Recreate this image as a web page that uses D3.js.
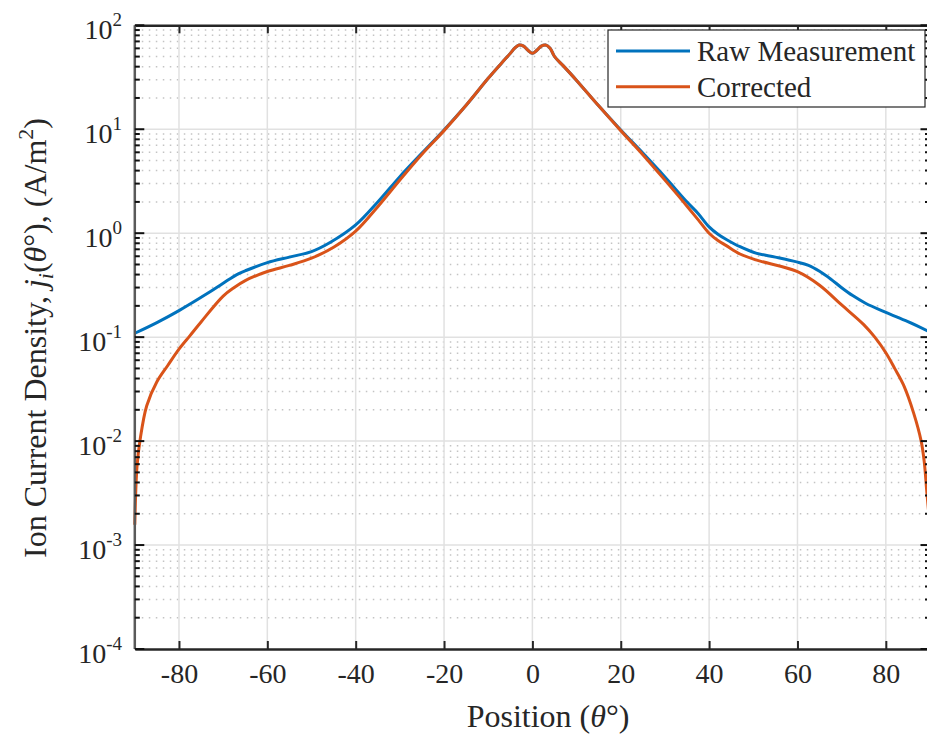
<!DOCTYPE html>
<html>
<head>
<meta charset="UTF-8">
<style>
body { margin: 0; background: #fff; }
svg text { font-family: "Liberation Serif", "Times New Roman", serif; fill: #262626; }
</style>
</head>
<body>
<svg id="chart"></svg>
<script src="https://d3js.org/d3.v7.min.js"></script>
<script>

// data
const thetaRaw = [-90, -85, -80, -73.7, -70, -66.9, -64.7, -60, -55, -50, -45.8, -40, -35, -30, -25, -20, -15, -10, -7, -5, -4, -3, -2, -1, 0,
  1, 2, 3, 4, 5, 7, 10, 15, 20, 25, 30, 35, 37.5, 40, 42, 43.9, 47, 50.6, 55, 59.8, 62.5, 65, 67.5, 70, 72.5, 75.4, 80, 85, 90];
const rawMeasurement = [0.109, 0.138, 0.180, 0.261, 0.330, 0.400, 0.440, 0.521, 0.589, 0.665, 0.813, 1.20, 1.995, 3.50, 5.89, 9.84, 17.0, 30.9, 43.2, 53.7, 60.3, 64.6, 63.1, 57.5, 53.7,
  57.5, 63.1, 64.6, 60.3, 50.1, 40.7, 29.5, 16.8, 9.84, 5.89, 3.47, 1.995, 1.55, 1.15, 0.977, 0.871, 0.741, 0.643, 0.589, 0.530, 0.490, 0.430, 0.363, 0.299, 0.251, 0.212, 0.173, 0.141, 0.112];

const thetaCor = [-90, -89.5, -88.8, -87.3, -85, -82.5, -80, -77.5, -75, -70, -67.5, -65, -60, -55, -50, -45, -40, -35, -30, -25, -20, -15, -10, -7, -5, -4, -3, -2, -1, 0,
  1, 2, 3, 4, 5, 7, 10, 15, 20, 25, 30, 35, 37.5, 40, 42, 43.9, 47, 50.6, 60, 65, 70, 75, 77.5, 80, 82, 84, 86.3, 88, 88.7, 89.3, 90];
const corrected = [0.00157, 0.0057, 0.0103, 0.0219, 0.0372, 0.0537, 0.0767, 0.1035, 0.140, 0.248, 0.300, 0.350, 0.428, 0.490, 0.575, 0.733, 1.047, 1.80, 3.25, 5.75, 9.7, 17.0, 30.9, 43.2, 53.7, 60.3, 64.6, 63.1, 57.5, 53.7,
  57.5, 63.1, 64.6, 60.3, 50.1, 40.7, 29.5, 16.8, 9.7, 5.70, 3.24, 1.82, 1.35, 1.0, 0.851, 0.759, 0.631, 0.553, 0.427, 0.316, 0.204, 0.132, 0.100, 0.0708, 0.0501, 0.0347, 0.0186, 0.0100, 0.00631, 0.00316, 0.00151];

const xTicks = [-80, -60, -40, -20, 0, 20, 40, 60, 80];
const yExponents = [-4, -3, -2, -1, 0, 1, 2];
const seriesNames = ["Raw Measurement", "Corrected"];
const seriesColors = ["#0072BD", "#D95319"];

const width = 927, height = 734;
const svg = d3.select("#chart").attr("width", width).attr("height", height);

const x = d3.scaleLinear().domain([-90, 90]).range([134.8, 930]);
const y = d3.scaleLog().domain([1e-4, 1e2]).range([649, 25.3]);

const plotL = x(-90), plotR = x(90), plotT = y(1e2), plotB = y(1e-4);

// minor grid (dotted)
let minors = [];
yExponents.slice(0, -1).forEach(e => {
  for (let k = 2; k <= 9; k++) minors.push(k * Math.pow(10, e));
});
svg.append("g").selectAll("line").data(minors).enter().append("line")
  .attr("x1", plotL).attr("x2", plotR)
  .attr("y1", d => y(d)).attr("y2", d => y(d))
  .attr("stroke", "#c4c4c4").attr("stroke-width", 1.5)
  .attr("stroke-dasharray", "1.5,5.5");

// major grid
svg.append("g").selectAll("line").data(yExponents.slice(1, -1)).enter().append("line")
  .attr("x1", plotL).attr("x2", plotR)
  .attr("y1", d => y(Math.pow(10, d))).attr("y2", d => y(Math.pow(10, d)))
  .attr("stroke", "#e1e1e1").attr("stroke-width", 1.5);
svg.append("g").selectAll("line").data(xTicks).enter().append("line")
  .attr("x1", d => x(d)).attr("x2", d => x(d))
  .attr("y1", plotT).attr("y2", plotB)
  .attr("stroke", "#e1e1e1").attr("stroke-width", 1.5);

// curves
const line = d3.line().curve(d3.curveCatmullRom.alpha(0.5));
const series = [
  thetaRaw.map((t, i) => [x(t), y(rawMeasurement[i])]),
  thetaCor.map((t, i) => [x(t), y(corrected[i])])
];
series.forEach((pts, i) => {
  svg.append("path").attr("d", line(pts))
    .attr("fill", "none").attr("stroke", seriesColors[i])
    .attr("stroke-width", 3).attr("stroke-linejoin", "round");
});

// axes
const xAxis = d3.axisBottom(x).tickValues(xTicks).tickSizeInner(-8).tickSizeOuter(0).tickPadding(14)
  .tickFormat(d => String(d));
const gx = svg.append("g").attr("transform", "translate(0," + plotB + ")").call(xAxis);
gx.select(".domain").attr("stroke", "#262626").attr("stroke-width", 2.5);
gx.selectAll(".tick line").attr("stroke", "#262626").attr("stroke-width", 2);
gx.selectAll(".tick text").attr("font-size", 28).attr("font-family", "Liberation Serif").attr("fill", "#262626");

const xTop = d3.axisTop(x).tickValues(xTicks).tickSizeInner(-8).tickSizeOuter(0).tickFormat("");
const gt = svg.append("g").attr("transform", "translate(0," + plotT + ")").call(xTop);
gt.select(".domain").attr("stroke", "#262626").attr("stroke-width", 2.5);
gt.selectAll(".tick line").attr("stroke", "#262626").attr("stroke-width", 2);

// left / right axis lines and ticks
svg.append("line").attr("x1", plotL).attr("x2", plotL).attr("y1", plotT).attr("y2", plotB)
  .attr("stroke", "#5a5a5a").attr("stroke-width", 2.5);
svg.append("line").attr("x1", plotR).attr("x2", plotR).attr("y1", plotT).attr("y2", plotB)
  .attr("stroke", "#262626").attr("stroke-width", 2.5);
[plotL, plotR].forEach(x0 => {
  const dir = x0 === plotL ? 1 : -1;
  svg.append("g").selectAll("line").data(yExponents).enter().append("line")
    .attr("x1", x0).attr("x2", x0 + dir * 9.5)
    .attr("y1", d => y(Math.pow(10, d))).attr("y2", d => y(Math.pow(10, d)))
    .attr("stroke", "#111").attr("stroke-width", 2);
  svg.append("g").selectAll("line").data(minors).enter().append("line")
    .attr("x1", x0).attr("x2", x0 + dir * 5)
    .attr("y1", d => y(d)).attr("y2", d => y(d))
    .attr("stroke", "#111").attr("stroke-width", 2);
});

// y tick labels 10^n
const yl = svg.append("g").selectAll("text").data(yExponents).enter().append("text")
  .attr("x", 122).attr("y", d => y(Math.pow(10, d)) + 14)
  .attr("text-anchor", "end").attr("font-size", 28);
yl.append("tspan").text("10");
yl.append("tspan").attr("dy", -13).attr("font-size", 19).text(d => String(d));

// axis labels
svg.append("text").attr("x", 548).attr("y", 727).attr("text-anchor", "middle")
  .attr("font-size", 32)
  .call(t => {
    t.append("tspan").text("Position (");
    t.append("tspan").attr("font-style", "italic").text("θ");
    t.append("tspan").text("°)");
  });

const ylab = svg.append("text")
  .attr("transform", "translate(46,338) rotate(-90)")
  .attr("text-anchor", "middle").attr("font-size", 32);
ylab.append("tspan").text("Ion Current Density, ");
ylab.append("tspan").attr("font-style", "italic").text("j");
ylab.append("tspan").attr("font-style", "italic").attr("font-size", 22).attr("dy", 7).text("i");
ylab.append("tspan").attr("dy", -7).text("(");
ylab.append("tspan").attr("font-style", "italic").text("θ");
ylab.append("tspan").text("°), (A/m");
ylab.append("tspan").attr("font-size", 22).attr("dy", -13).text("2");
ylab.append("tspan").attr("dy", 13).text(")");

// legend
const lg = svg.append("g");
lg.append("rect").attr("x", 608).attr("y", 30).attr("width", 317).attr("height", 77)
  .attr("fill", "#fff").attr("stroke", "#262626").attr("stroke-width", 1.2);
seriesNames.forEach((name, i) => {
  const cy = 51 + i * 35.7;
  lg.append("line").attr("x1", 616).attr("x2", 690).attr("y1", cy).attr("y2", cy)
    .attr("stroke", seriesColors[i]).attr("stroke-width", 3);
  lg.append("text").attr("x", 697).attr("y", cy + 10).attr("font-size", 29).attr("fill", "#000").text(name);
});
</script>
</body>
</html>
